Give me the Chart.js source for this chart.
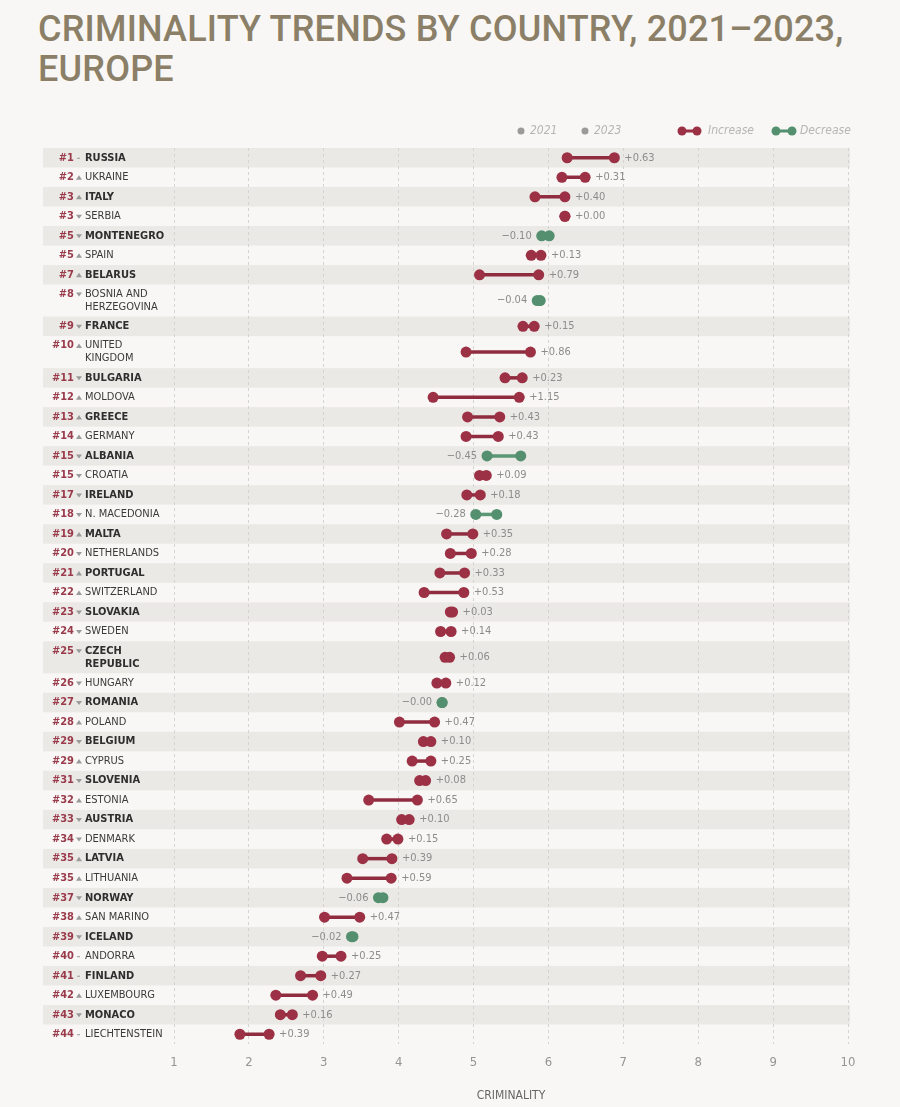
<!DOCTYPE html>
<html>
<head>
<meta charset="utf-8">
<script src="https://cdn.jsdelivr.net/npm/chart.js@4.4.1/dist/chart.umd.min.js"></script>
<style>
  html, body { margin: 0; padding: 0; background: #f8f7f5; }
  body { width: 900px; height: 1107px; overflow: hidden; position: relative; }
  h1 {
    position: absolute; left: 38px; top: 9px; margin: 0; white-space: nowrap;
    font-family: Roboto, "Noto Sans", sans-serif; font-weight: 500;
    font-size: 36px; line-height: 40px; color: #8b7f68; letter-spacing: 0.2px;
  }
  #wrap { position: absolute; left: 0; top: 100px; width: 900px; height: 1007px; }
</style>
</head>
<body>
<h1>CRIMINALITY TRENDS BY COUNTRY, 2021–2023,<br>EUROPE</h1>
<div id="wrap"><canvas id="chart"></canvas></div>
<script>
// ----------------------------------------------------------------------
// Data
// ----------------------------------------------------------------------
const countries = [
  "RUSSIA", "UKRAINE", "ITALY", "SERBIA", "MONTENEGRO", "SPAIN", "BELARUS",
  "BOSNIA AND\nHERZEGOVINA", "FRANCE", "UNITED\nKINGDOM", "BULGARIA", "MOLDOVA",
  "GREECE", "GERMANY", "ALBANIA", "CROATIA", "IRELAND", "N. MACEDONIA", "MALTA",
  "NETHERLANDS", "PORTUGAL", "SWITZERLAND", "SLOVAKIA", "SWEDEN",
  "CZECH\nREPUBLIC", "HUNGARY", "ROMANIA", "POLAND", "BELGIUM", "CYPRUS",
  "SLOVENIA", "ESTONIA", "AUSTRIA", "DENMARK", "LATVIA", "LITHUANIA", "NORWAY",
  "SAN MARINO", "ICELAND", "ANDORRA", "FINLAND", "LUXEMBOURG", "MONACO",
  "LIECHTENSTEIN"
];
const ranks = [1, 2, 3, 3, 5, 5, 7, 8, 9, 10, 11, 12, 13, 14, 15, 15, 17, 18, 19,
  20, 21, 22, 23, 24, 25, 26, 27, 28, 29, 29, 31, 32, 33, 34, 35, 35, 37, 38, 39,
  40, 41, 42, 43, 44];
// rank movement: "=" unchanged, "up", "down"
const moves = ["=", "up", "up", "down", "down", "up", "up", "down", "down", "up",
  "down", "up", "up", "up", "down", "down", "down", "down", "up", "down", "up",
  "up", "down", "down", "down", "down", "down", "up", "down", "up", "down", "up",
  "down", "down", "up", "up", "down", "up", "down", "=", "=", "up", "down", "="];
const values2021 = [6.25, 6.18, 5.82, 6.22, 6.01, 5.77, 5.08, 5.89, 5.66, 4.90,
  5.42, 4.46, 4.92, 4.90, 5.63, 5.08, 4.91, 5.31, 4.64, 4.69, 4.55, 4.34, 4.69,
  4.56, 4.62, 4.51, 4.58, 4.01, 4.33, 4.18, 4.28, 3.60, 4.04, 3.84, 3.52, 3.31,
  3.79, 3.01, 3.39, 2.98, 2.69, 2.36, 2.42, 1.88];
const values2023 = [6.88, 6.49, 6.22, 6.22, 5.91, 5.90, 5.87, 5.85, 5.81, 5.76,
  5.65, 5.61, 5.35, 5.33, 5.18, 5.17, 5.09, 5.03, 4.99, 4.97, 4.88, 4.87, 4.72,
  4.70, 4.68, 4.63, 4.58, 4.48, 4.43, 4.43, 4.36, 4.25, 4.14, 3.99, 3.91, 3.90,
  3.73, 3.48, 3.37, 3.23, 2.96, 2.85, 2.58, 2.27];
const changes = ["+0.63", "+0.31", "+0.40", "+0.00", "−0.10", "+0.13", "+0.79",
  "−0.04", "+0.15", "+0.86", "+0.23", "+1.15", "+0.43", "+0.43", "−0.45", "+0.09",
  "+0.18", "−0.28", "+0.35", "+0.28", "+0.33", "+0.53", "+0.03", "+0.14", "+0.06",
  "+0.12", "−0.00", "+0.47", "+0.10", "+0.25", "+0.08", "+0.65", "+0.10", "+0.15",
  "+0.39", "+0.59", "−0.06", "+0.47", "−0.02", "+0.25", "+0.27", "+0.49", "+0.16",
  "+0.39"];
const xTicks = [1, 2, 3, 4, 5, 6, 7, 8, 9, 10];

// ----------------------------------------------------------------------
// Style
// ----------------------------------------------------------------------
const RED = "#9c3045";
const RED_LINE = "#8f2c3f";
const GREEN = "#54906f";
const GREEN_LINE = "#5b9676";
const BAND = "#ebe9e5";
const LABEL_FONT = "'Liberation Sans Narrow', 'DejaVu Sans Condensed', sans-serif";

// row layout: two-line labels get taller rows
const rowWeights = countries.map((c) => (c.includes("\n") ? 1.64 : 1));
const rowStarts = [];
let acc = 0;
rowWeights.forEach((w) => { rowStarts.push(acc); acc += w; });
const TOTAL_ROWS = acc;
const rowCenter = (i) => rowStarts[i] + rowWeights[i] / 2;

const isDecrease = (i) => changes[i].startsWith("−");

// connector line points, separated by gaps
const connectorData = [];
countries.forEach((c, i) => {
  connectorData.push({ x: values2021[i], y: rowCenter(i) });
  connectorData.push({ x: values2023[i], y: rowCenter(i) });
  connectorData.push({ x: null, y: null });
});

// ----------------------------------------------------------------------
// Plugins: row bands, row labels, value labels, legend
// ----------------------------------------------------------------------
const rowsPlugin = {
  id: "rows",
  beforeDraw(chart) {
    const { ctx } = chart;
    const y = chart.scales.y;
    ctx.save();
    ctx.fillStyle = BAND;
    countries.forEach((c, i) => {
      if (i % 2 !== 0) return;
      const top = y.getPixelForValue(rowStarts[i]);
      const bottom = y.getPixelForValue(rowStarts[i] + rowWeights[i]);
      ctx.fillRect(43, top, 807, bottom - top);
    });
    ctx.restore();
  },
  afterDraw(chart) {
    const { ctx } = chart;
    const x = chart.scales.x;
    const y = chart.scales.y;
    ctx.save();
    ctx.textBaseline = "middle";
    countries.forEach((name, i) => {
      const cy = y.getPixelForValue(rowCenter(i));
      const lines = name.split("\n");
      const firstY = cy - (lines.length - 1) * 6.5;
      const bold = i % 2 === 0;

      // rank
      ctx.font = `bold 11px ${LABEL_FONT}`;
      ctx.fillStyle = "#9a3b4c";
      ctx.textAlign = "right";
      ctx.fillText(`#${ranks[i]}`, 74, firstY);

      // movement marker
      ctx.fillStyle = "#9a9a9a";
      if (moves[i] === "up") {
        ctx.beginPath();
        ctx.moveTo(76, firstY + 2.5);
        ctx.lineTo(82, firstY + 2.5);
        ctx.lineTo(79, firstY - 2);
        ctx.fill();
      } else if (moves[i] === "down") {
        ctx.beginPath();
        ctx.moveTo(76, firstY - 1.5);
        ctx.lineTo(82, firstY - 1.5);
        ctx.lineTo(79, firstY + 2.5);
        ctx.fill();
      } else {
        ctx.fillRect(77, firstY, 3, 1);
      }

      // country name
      ctx.font = `${bold ? "bold " : ""}11px ${LABEL_FONT}`;
      ctx.fillStyle = bold ? "#2e2e2e" : "#3a3a3a";
      ctx.textAlign = "left";
      lines.forEach((ln, k) => ctx.fillText(ln, 85, firstY + k * 13));

      // change label
      ctx.font = `11px ${LABEL_FONT}`;
      ctx.fillStyle = "#8c8c8c";
      const lo = Math.min(values2021[i], values2023[i]);
      const hi = Math.max(values2021[i], values2023[i]);
      if (isDecrease(i)) {
        ctx.textAlign = "right";
        ctx.fillText(changes[i], x.getPixelForValue(lo) - 10, cy);
      } else {
        ctx.textAlign = "left";
        ctx.fillText(changes[i], x.getPixelForValue(hi) + 10, cy);
      }
    });

    // legend
    const ly = 31;
    ctx.font = `italic 12px ${LABEL_FONT}`;
    ctx.textAlign = "left";
    const dot = (cx, r, color) => {
      ctx.fillStyle = color;
      ctx.beginPath();
      ctx.arc(cx, ly, r, 0, Math.PI * 2);
      ctx.fill();
    };
    const dumbbell = (x0, x1, color) => {
      ctx.strokeStyle = color;
      ctx.lineWidth = 3;
      ctx.beginPath();
      ctx.moveTo(x0, ly);
      ctx.lineTo(x1, ly);
      ctx.stroke();
      dot(x0, 4.5, color);
      dot(x1, 4.5, color);
    };
    dot(521, 3.5, "#9a9a9a");
    ctx.fillStyle = "#b5b5b5";
    ctx.fillText("2021", 530, ly);
    dot(585, 3.5, "#9a9a9a");
    ctx.fillStyle = "#b5b5b5";
    ctx.fillText("2023", 594, ly);
    dumbbell(682, 697, RED);
    ctx.fillStyle = "#b5b5b5";
    ctx.fillText("Increase", 708, ly);
    dumbbell(776, 792, GREEN);
    ctx.fillStyle = "#b5b5b5";
    ctx.fillText("Decrease", 800, ly);
    ctx.restore();
  },
};

// ----------------------------------------------------------------------
// Chart
// ----------------------------------------------------------------------
const pointColors = countries.map((c, i) => (isDecrease(i) ? GREEN : RED));

new Chart(document.getElementById("chart"), {
  type: "scatter",
  data: {
    datasets: [
      {
        label: "2023",
        data: countries.map((c, i) => ({ x: values2023[i], y: rowCenter(i) })),
        pointRadius: 5.5,
        pointBorderWidth: 0,
        pointBackgroundColor: pointColors,
      },
      {
        label: "2021",
        data: countries.map((c, i) => ({ x: values2021[i], y: rowCenter(i) })),
        pointRadius: 5.5,
        pointBorderWidth: 0,
        pointBackgroundColor: pointColors,
      },
      {
        label: "change",
        data: connectorData,
        showLine: true,
        spanGaps: false,
        pointRadius: 0,
        borderWidth: 3.5,
        borderColor: RED_LINE,
        segment: {
          borderColor: (ctx) =>
            isDecrease(Math.floor(ctx.p0DataIndex / 3)) ? GREEN_LINE : RED_LINE,
        },
      },
    ],
  },
  options: {
    responsive: true,
    maintainAspectRatio: false,
    animation: false,
    layout: { padding: { left: 174, right: 52, top: 48, bottom: 0 } },
    plugins: { legend: { display: false }, tooltip: { enabled: false } },
    scales: {
      x: {
        type: "linear",
        min: 1,
        max: 10,
        afterBuildTicks: (scale) => { scale.ticks = xTicks.map((v) => ({ value: v })); },
        afterFit: (scale) => { scale.height = 63; },
        border: { display: false, dash: [3, 3] },
        grid: { color: "#d6d4d0", lineWidth: 1, drawTicks: false },
        ticks: {
          color: "#959595",
          padding: 11,
          font: { family: LABEL_FONT, size: 13 },
        },
        title: {
          display: true,
          text: "CRIMINALITY",
          color: "#666",
          padding: { top: 2 },
          font: { family: LABEL_FONT, size: 12 },
        },
      },
      y: {
        type: "linear",
        display: false,
        reverse: true,
        min: 0,
        max: TOTAL_ROWS,
      },
    },
  },
  plugins: [rowsPlugin],
});
</script>
</body>
</html>
